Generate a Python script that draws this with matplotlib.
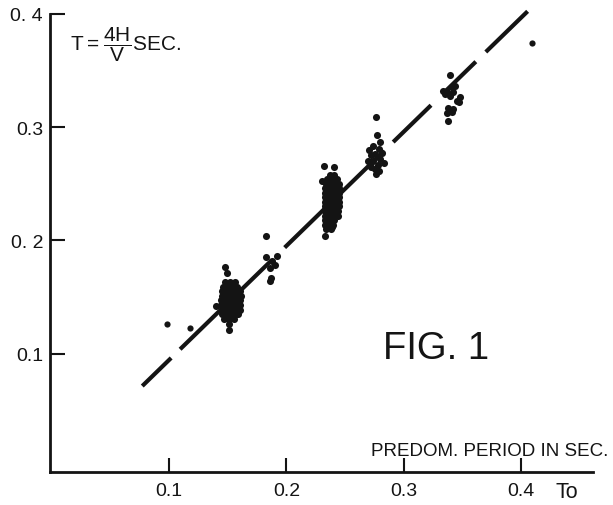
import matplotlib
matplotlib.use("Agg")
import matplotlib.pyplot as plt

plt.rcParams['font.family'] = ['Liberation Sans', 'DejaVu Sans']
plt.rcParams['mathtext.fontset'] = 'custom'
plt.rcParams['mathtext.rm'] = 'Liberation Sans'
plt.rcParams['lines.scale_dashes'] = False

ink = '#141414'

# T = To reference line (ends)
line_To = [0.077, 0.407]
line_T = [0.0715, 0.4034]

# isolated readings
single_To = [0.098, 0.118, 0.4096]
single_T = [0.126, 0.1227, 0.3742]

# cluster near To = 0.15
c1_To = [0.148, 0.152, 0.156,
         0.146, 0.150, 0.154, 0.158,
         0.145, 0.149, 0.153, 0.157, 0.160,
         0.145, 0.149, 0.153, 0.157, 0.161,
         0.144, 0.148, 0.152, 0.156, 0.160,
         0.144, 0.148, 0.152, 0.156, 0.160,
         0.145, 0.149, 0.153, 0.157, 0.160,
         0.145, 0.149, 0.153, 0.157, 0.159,
         0.147, 0.151, 0.155,
         0.150, 0.154, 0.152, 0.147, 0.155, 0.151, 0.147, 0.156,
         0.140, 0.1476, 0.1496, 0.151, 0.151]
c1_T = [0.163, 0.163, 0.163,
        0.159, 0.159, 0.159, 0.159,
        0.155, 0.155, 0.155, 0.155, 0.155,
        0.151, 0.151, 0.151, 0.151, 0.151,
        0.147, 0.147, 0.147, 0.147, 0.147,
        0.143, 0.143, 0.143, 0.143, 0.143,
        0.139, 0.139, 0.139, 0.139, 0.139,
        0.135, 0.135, 0.135, 0.135, 0.135,
        0.131, 0.131, 0.131,
        0.161, 0.157, 0.149, 0.145, 0.145, 0.141, 0.137, 0.137,
        0.142, 0.177, 0.1715, 0.121, 0.126]

# cross near To = 0.185
c2_To = [0.1826, 0.183, 0.192, 0.1875, 0.186, 0.190, 0.187, 0.186]
c2_T = [0.2036, 0.185, 0.1865, 0.182, 0.176, 0.178, 0.167, 0.164]

# cluster near To = 0.24
c3_To = [0.237, 0.241,
         0.235, 0.239, 0.243,
         0.234, 0.238, 0.242, 0.245,
         0.233, 0.237, 0.241, 0.245,
         0.233, 0.237, 0.241, 0.245,
         0.233, 0.237, 0.241, 0.245,
         0.233, 0.237, 0.241, 0.245,
         0.233, 0.237, 0.241, 0.245,
         0.233, 0.237, 0.241, 0.244,
         0.233, 0.237, 0.241, 0.244,
         0.233, 0.237, 0.241,
         0.233, 0.237, 0.240,
         0.234, 0.238,
         0.239, 0.235, 0.243, 0.239, 0.235, 0.243, 0.239, 0.235, 0.239,
         0.2325, 0.2405, 0.2305, 0.233]
c3_T = [0.258, 0.258,
        0.254, 0.254, 0.254,
        0.250, 0.250, 0.250, 0.250,
        0.246, 0.246, 0.246, 0.246,
        0.242, 0.242, 0.242, 0.242,
        0.238, 0.238, 0.238, 0.238,
        0.234, 0.234, 0.234, 0.234,
        0.230, 0.230, 0.230, 0.230,
        0.226, 0.226, 0.226, 0.226,
        0.222, 0.222, 0.222, 0.222,
        0.218, 0.218, 0.218,
        0.214, 0.214, 0.214,
        0.210, 0.210,
        0.252, 0.244, 0.244, 0.236, 0.228, 0.228, 0.220, 0.216, 0.212,
        0.2655, 0.2648, 0.2524, 0.204]

# cluster near To = 0.277
c4_To = [0.2705, 0.274, 0.279, 0.282, 0.272, 0.276, 0.280, 0.2695, 0.274,
         0.278, 0.283, 0.272, 0.276, 0.279, 0.2765, 0.2762, 0.2776, 0.280]
c4_T = [0.280, 0.283, 0.281, 0.277, 0.275, 0.276, 0.272, 0.270, 0.270,
        0.267, 0.268, 0.265, 0.263, 0.2615, 0.259, 0.3087, 0.293, 0.2866]

# cluster near To = 0.34
c5_To = [0.3396, 0.334, 0.3368, 0.341, 0.3425, 0.3396, 0.3481, 0.3453,
         0.3475, 0.3382, 0.3425, 0.341, 0.3368, 0.3382, 0.3353, 0.3439]
c5_T = [0.346, 0.332, 0.3307, 0.335, 0.3307, 0.3277, 0.3263, 0.3233,
        0.322, 0.3166, 0.316, 0.313, 0.3124, 0.3057, 0.3292, 0.3366]

x_ticks = [0.1, 0.2, 0.3, 0.4]
x_labels = ['0.1', '0.2', '0.3', '0.4']
y_ticks = [0.1, 0.2, 0.3, 0.4]
y_labels = ['0.1', '0. 2', '0.3', '0. 4']

fig = plt.figure(figsize=(6.13, 5.06), dpi=100)
ax = fig.add_axes([0, 0, 1, 1])
ax.set_xlim(-0.0444, 0.4787)
ax.set_ylim(-0.0335, 0.4131)

ax.plot(line_To, line_T, color=ink, lw=3, solid_capstyle='butt',
        dash_capstyle='butt',
        dashes=[29, 9, 92, 13, 100, 9, 38, 13, 32, 10, 42, 20])

ax.scatter(single_To, single_T, s=20, color=ink, linewidths=0, zorder=3)
for xs, ys in [(c1_To, c1_T), (c2_To, c2_T), (c3_To, c3_T),
               (c4_To, c4_T), (c5_To, c5_T)]:
    ax.scatter(xs, ys, s=26, color=ink, linewidths=0, zorder=3)

for side in ['top', 'right']:
    ax.spines[side].set_visible(False)
ax.spines['left'].set_position(('data', -0.0017))
ax.spines['left'].set_bounds(-0.0044, 0.4)
ax.spines['bottom'].set_position(('data', -0.0044))
ax.spines['bottom'].set_bounds(-0.0017, 0.462)
for side in ['left', 'bottom']:
    ax.spines[side].set_linewidth(2)
    ax.spines[side].set_color(ink)

ax.set_xticks(x_ticks, x_labels)
ax.set_yticks(y_ticks, y_labels)
ax.tick_params(axis='x', direction='in', length=10, width=1.5, color=ink,
               labelsize=14, pad=7, labelcolor=ink)
ax.tick_params(axis='y', direction='in', length=11, width=1.5, color=ink,
               labelsize=14, pad=5, labelcolor=ink)

fig.text(567 / 613, 1 - 493 / 506, 'To', fontsize=15.5, color=ink,
         ha='center', va='center')
fig.text(608 / 613, 1 - 452 / 506, 'PREDOM. PERIOD IN SEC.', fontsize=13.5,
         color=ink, ha='right', va='center')
fig.text(383 / 613, 1 - 349 / 506, 'FIG. 1', fontsize=27.5, color=ink,
         ha='left', va='center')
fig.text(70 / 613, 1 - 45 / 506,
         r'$\mathregular{T}=\dfrac{\mathregular{4H}}{\mathregular{V}}$SEC.',
         fontsize=15, color=ink, ha='left', va='center')

fig.savefig('out.png', dpi=100)
